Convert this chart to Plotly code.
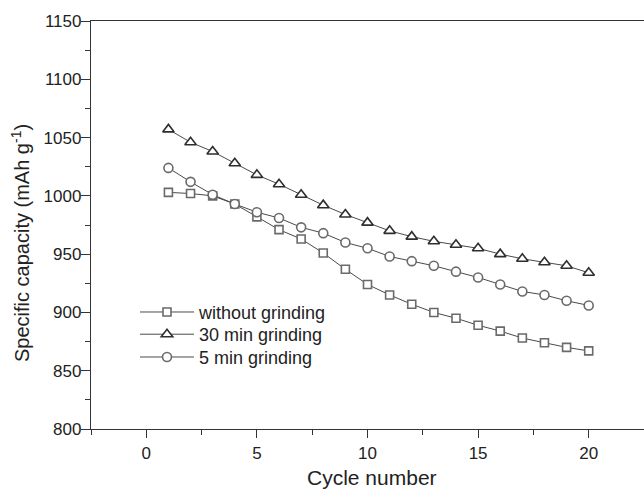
import plotly.graph_objects as go

cycles = list(range(1, 21))
without_grinding = [1003, 1002, 1000, 993, 982, 971, 963, 951, 937, 924,
                    915, 907, 900, 895, 889, 884, 878, 874, 870, 867]
grinding_30 = [1057, 1046, 1038, 1028, 1018, 1010, 1001, 992, 984, 977,
               970, 965, 961, 958, 955, 950, 946, 943, 940, 934]
grinding_5 = [1024, 1012, 1001, 993, 986, 981, 973, 968, 960, 955,
              948, 944, 940, 935, 930, 924, 918, 915, 910, 906]

series = [
    ("without grinding", without_grinding, "square", "#6a6a6a", 8, "legend", 312.3),
    ("30 min grinding", grinding_30, "triangle-up", "#2e2e2e", 10, "legend2", 334.5),
    ("5 min grinding", grinding_5, "circle", "#6a6a6a", 9, "legend3", 357.3),
]

font = "Liberation Sans, Arial, sans-serif"
fig = go.Figure()
legends = {}
for name, vals, sym, col, sz, lg, ypix in series:
    fig.add_trace(go.Scatter(
        x=cycles, y=vals, name=name, mode="lines+markers", legend=lg,
        line=dict(color="#4a4a4a", width=1),
        marker=dict(symbol=sym, size=sz, color="white",
                    line=dict(color=col, width=1.6)),
    ))
    legends[lg] = dict(x=(135 - 91) / 553, y=(429 - ypix) / 408,
                       xanchor="left", yanchor="middle",
                       bgcolor="rgba(0,0,0,0)",
                       font=dict(size=18, color="#222", family=font),
                       itemwidth=54)

fig.update_layout(
    width=644, height=489,
    margin=dict(l=91, r=0, t=21, b=60),
    paper_bgcolor="white", plot_bgcolor="white",
    font=dict(family=font, size=17, color="#222"),
    showlegend=True,
    xaxis=dict(range=[-2.5, 22.5], dtick=5, tick0=0, showgrid=False,
               zeroline=False, showline=True, linecolor="#333", linewidth=1.3,
               mirror=True, ticks="outside", ticklen=8, tickwidth=1.3,
               tickcolor="#333",
               minor=dict(dtick=2.5, tick0=0, ticks="outside", ticklen=5,
                          tickwidth=1.2, tickcolor="#333", showgrid=False),
               tickfont=dict(size=17, color="#222")),
    yaxis=dict(range=[800, 1150], dtick=50, tick0=800, showgrid=False,
               zeroline=False, showline=True, linecolor="#333", linewidth=1.3,
               mirror=False, ticks="outside", ticklen=9, tickwidth=1.3,
               tickcolor="#333", ticklabelstandoff=-4,
               minor=dict(dtick=25, tick0=800, ticks="outside", ticklen=5,
                          tickwidth=1.2, tickcolor="#333", showgrid=False),
               tickfont=dict(size=17, color="#222")),
    annotations=[
        dict(text="Cycle number", xref="paper", yref="paper",
             x=(372 - 91) / 553, y=-(477 - 429) / 408, xanchor="center",
             yanchor="middle", showarrow=False, font=dict(size=21, color="#222")),
        dict(text="Specific capacity (mAh g<sup>-1</sup>)", xref="paper",
             yref="paper", x=-(91 - 20) / 553, y=(429 - 243) / 408,
             xanchor="center", yanchor="middle", textangle=-90,
             showarrow=False, font=dict(size=20, color="#222")),
    ],
    **legends,
)

fig.write_html("out.html")
